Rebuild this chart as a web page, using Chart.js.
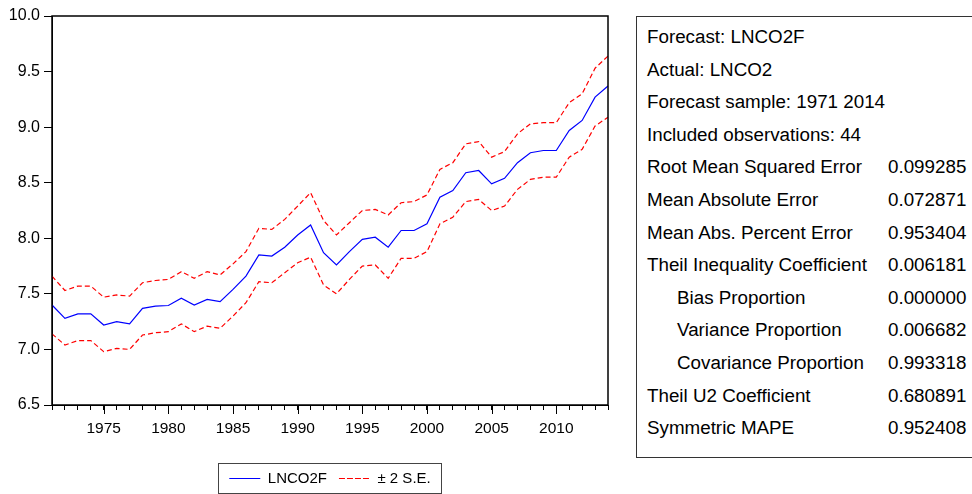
<!DOCTYPE html>
<html>
<head>
<meta charset="utf-8">
<script src="https://cdn.jsdelivr.net/npm/chart.js@4.4.1/dist/chart.umd.min.js"></script>
<style>
  body { margin: 0; background: #fff; font-family: 'Liberation Sans', Arial, sans-serif; }
  #wrap { position: relative; width: 972px; height: 494px; overflow: hidden; }
  #chart { position: absolute; left: 0; top: 2px; }
  #stats {
    position: absolute; left: 636px; top: 16px; width: 360px; height: 442px;
    border: 1px solid #333; box-sizing: border-box; padding-top: 4px;
    font-size: 18.8px; color: #000;
  }
  .row { height: 32.6px; line-height: 32.6px; white-space: nowrap; padding-left: 10px; }
  .row .lab { display: inline-block; width: 241px; }
  .row .lab.ind { padding-left: 30px; width: 211px; }
</style>
</head>
<body>
<div id="wrap">
  <canvas id="chart" width="620" height="494"></canvas>
  <div id="stats"></div>
</div>
<script>
// years on the x axis
const years = [1971, 1972, 1973, 1974, 1975, 1976, 1977, 1978, 1979, 1980,
  1981, 1982, 1983, 1984, 1985, 1986, 1987, 1988, 1989, 1990,
  1991, 1992, 1993, 1994, 1995, 1996, 1997, 1998, 1999, 2000,
  2001, 2002, 2003, 2004, 2005, 2006, 2007, 2008, 2009, 2010,
  2011, 2012, 2013, 2014];
const labelYears = [1975, 1980, 1985, 1990, 1995, 2000, 2005, 2010];
const yTicks = [6.5, 7.0, 7.5, 8.0, 8.5, 9.0, 9.5, 10.0];

// LNCO2F forecast and the +/- 2 S.E. band
const forecast = [7.40, 7.28, 7.32, 7.32, 7.22, 7.25, 7.23, 7.37, 7.39, 7.395,
  7.46, 7.40, 7.45, 7.43, 7.54, 7.66, 7.85, 7.84, 7.92, 8.03,
  8.12, 7.87, 7.76, 7.88, 7.99, 8.01, 7.92, 8.07, 8.07, 8.13,
  8.37, 8.43, 8.59, 8.61, 8.49, 8.54, 8.68, 8.77, 8.79, 8.79,
  8.97, 9.06, 9.27, 9.37];
const upperBand = [7.66, 7.53, 7.57, 7.57, 7.47, 7.49, 7.48, 7.60, 7.62, 7.63,
  7.70, 7.64, 7.70, 7.67, 7.77, 7.88, 8.09, 8.08, 8.17, 8.29,
  8.41, 8.16, 8.03, 8.14, 8.25, 8.26, 8.21, 8.32, 8.33, 8.39,
  8.62, 8.68, 8.85, 8.87, 8.73, 8.78, 8.94, 9.03, 9.04, 9.04,
  9.22, 9.30, 9.53, 9.64];
const lowerBand = [7.14, 7.04, 7.08, 7.08, 6.98, 7.01, 7.00, 7.13, 7.15, 7.16,
  7.23, 7.16, 7.21, 7.19, 7.30, 7.42, 7.61, 7.60, 7.69, 7.78,
  7.83, 7.58, 7.50, 7.63, 7.75, 7.76, 7.64, 7.82, 7.82, 7.88,
  8.13, 8.19, 8.33, 8.35, 8.25, 8.29, 8.44, 8.53, 8.55, 8.55,
  8.73, 8.80, 9.01, 9.09];

// forecast evaluation table
const statLabels = ['Forecast: LNCO2F', 'Actual: LNCO2', 'Forecast sample: 1971 2014',
  'Included observations: 44', 'Root Mean Squared Error', 'Mean Absolute Error',
  'Mean Abs. Percent Error', 'Theil Inequality Coefficient', 'Bias Proportion',
  'Variance Proportion', 'Covariance Proportion', 'Theil U2 Coefficient', 'Symmetric MAPE'];
const statValues = ['', '', '', '', '0.099285', '0.072871', '0.953404', '0.006181',
  '0.000000', '0.006682', '0.993318', '0.680891', '0.952408'];
const statIndent = [8, 9, 10];

const stats = document.getElementById('stats');
statLabels.forEach((lab, i) => {
  const row = document.createElement('div');
  row.className = 'row';
  const l = document.createElement('span');
  l.className = statIndent.includes(i) ? 'lab ind' : 'lab';
  l.textContent = lab;
  const v = document.createElement('span');
  v.textContent = statValues[i];
  row.appendChild(l);
  row.appendChild(v);
  stats.appendChild(row);
});

Chart.defaults.font.family = "'Liberation Sans', Arial, sans-serif";
Chart.defaults.font.size = 16;
Chart.defaults.color = '#000';

// frame round the plot, longer ticks at labelled years, border round the legend
const framePlugin = {
  id: 'frame',
  afterDraw(chart) {
    const { ctx, chartArea: a, scales } = chart;
    ctx.save();
    ctx.strokeStyle = '#000';
    ctx.lineWidth = 1.5;
    ctx.strokeRect(a.left, a.top, a.right - a.left, a.bottom - a.top);

    ctx.lineWidth = 1;
    ctx.beginPath();
    labelYears.forEach((yr) => {
      const px = Math.round(scales.x.getPixelForValue(years.indexOf(yr))) + 0.5;
      ctx.moveTo(px, a.bottom);
      ctx.lineTo(px, a.bottom + 9);
    });
    ctx.stroke();

    const hb = chart.legend.legendHitBoxes;
    if (hb && hb.length) {
      const last = hb[hb.length - 1];
      const l = Math.round(hb[0].left - 11) + 0.5;
      const r = Math.round(last.left + last.width + 10) + 0.5;
      const t = Math.round(hb[0].top - 8) + 0.5;
      ctx.strokeStyle = '#444';
      ctx.strokeRect(l, t, r - l, 30);
    }
    ctx.restore();
  }
};

const ctx = document.getElementById('chart').getContext('2d');
const chart = new Chart(ctx, {
  type: 'line',
  data: {
    labels: years,
    datasets: [
      {
        label: 'LNCO2F',
        data: forecast,
        borderColor: '#0000ff',
        backgroundColor: '#0000ff',
        borderWidth: 1.2,
        pointRadius: 0,
        tension: 0
      },
      {
        label: '\u00b1 2 S.E.',
        data: upperBand,
        borderColor: '#ff0000',
        backgroundColor: '#ff0000',
        borderWidth: 1.2,
        borderDash: [5, 3],
        pointRadius: 0,
        tension: 0
      },
      {
        label: 'lower',
        data: lowerBand,
        borderColor: '#ff0000',
        backgroundColor: '#ff0000',
        borderWidth: 1.2,
        borderDash: [5, 3],
        pointRadius: 0,
        tension: 0
      }
    ]
  },
  options: {
    responsive: false,
    devicePixelRatio: 1,
    animation: false,
    layout: { padding: { left: 0, right: 12, top: 14, bottom: 0 } },
    scales: {
      x: {
        type: 'category',
        offset: false,
        border: { display: true, color: '#000', width: 1 },
        grid: { drawOnChartArea: false, tickLength: 5, tickColor: '#000', tickWidth: 1 },
        ticks: {
          autoSkip: false,
          maxRotation: 0,
          padding: 9,
          font: { size: 15.5 },
          callback: function (v) {
            const yr = years[v];
            return labelYears.includes(yr) ? String(yr) : '';
          }
        },
        afterFit: (s) => { s.height = 54; s.paddingLeft = 0; s.paddingRight = 0; }
      },
      y: {
        min: 6.5,
        max: 10,
        border: { display: true, color: '#000', width: 1 },
        grid: { drawOnChartArea: false, tickLength: 8, tickColor: '#000', tickWidth: 1 },
        ticks: { padding: 4, callback: (v) => v.toFixed(1) },
        afterBuildTicks: (s) => { s.ticks = yTicks.map((v) => ({ value: v })); },
        afterFit: (s) => { s.width = 52; s.paddingTop = 0; s.paddingBottom = 0; }
      }
    },
    plugins: {
      tooltip: { enabled: false },
      legend: {
        position: 'bottom',
        fullSize: false,
        labels: {
          boxWidth: 31,
          boxHeight: 0,
          padding: 12,
          color: '#000',
          font: { size: 15 },
          filter: (item) => item.datasetIndex !== 2
        }
      }
    }
  },
  plugins: [framePlugin]
});
</script>
</body>
</html>
